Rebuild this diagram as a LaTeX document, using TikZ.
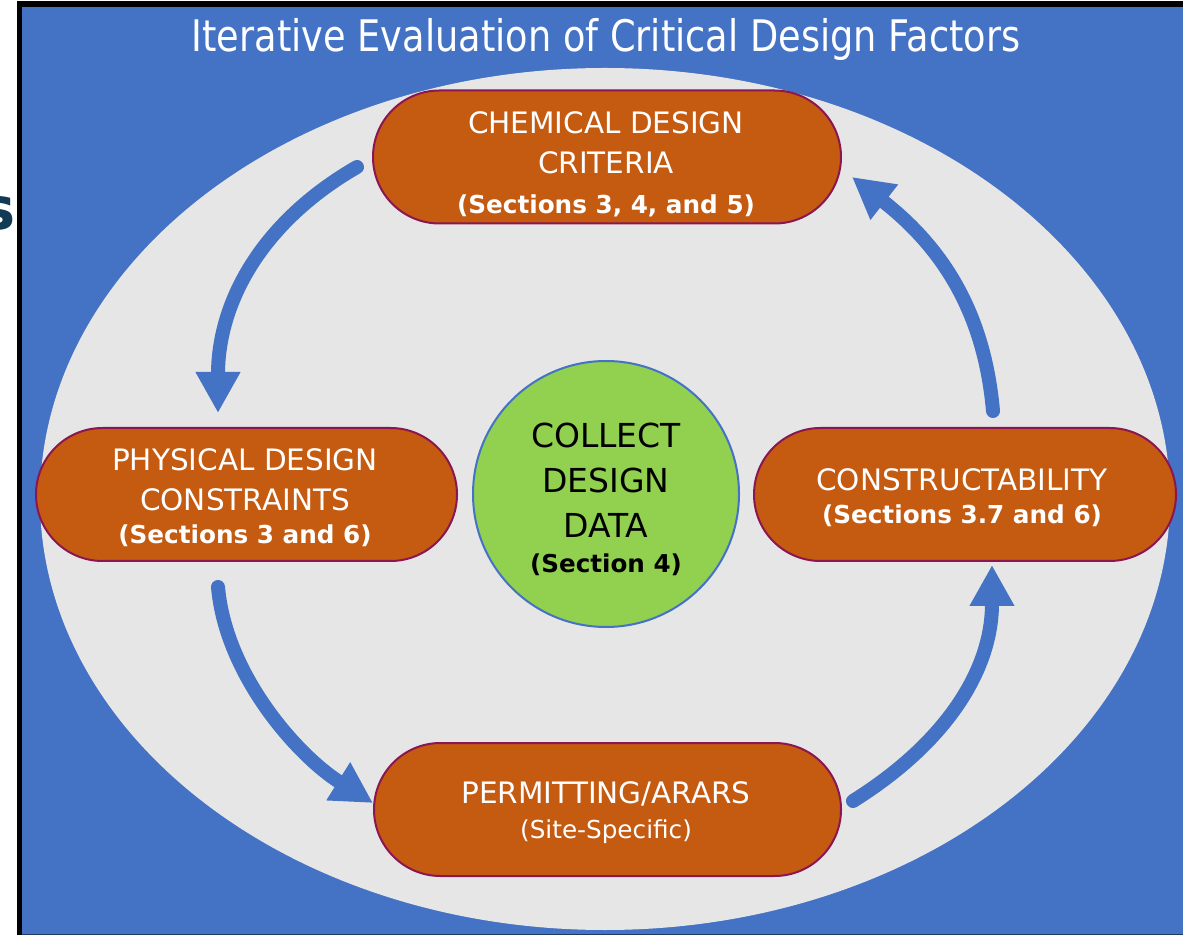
\documentclass[tikz,border=0pt]{standalone}
\usepackage{fontspec}
\setmainfont{DejaVu Sans}
\newfontfamily\titlefont{DejaVu Sans}[FakeStretch=0.844]
\usetikzlibrary{shapes.misc,arrows.meta}
\definecolor{bgblue}{HTML}{4472C4}
\definecolor{ellgray}{HTML}{E6E6E6}
\definecolor{pillfill}{HTML}{C55A11}
\definecolor{pillborder}{HTML}{8A1652}
\definecolor{datagreen}{HTML}{92D050}
\definecolor{navy}{HTML}{123A55}
\definecolor{darknavy}{HTML}{1F3864}
\begin{document}
\begin{tikzpicture}[x=1pt,y=1pt,
  pill/.style={rounded rectangle, draw=pillborder, line width=2pt, fill=pillfill, inner sep=0pt, minimum height=133pt},
  lbl/.style={align=center, text=white, inner sep=0pt, font=\fontsize{29.5}{40}\selectfont},
  sub/.style={font=\bfseries\fontsize{24.7}{40}\selectfont},
  flow/.style={draw=bgblue, line width=14pt, line cap=round, -{Triangle[length=41pt,width=42pt]}}
]
\useasboundingbox (0,0) rectangle (1183,935);
\fill[white] (0,0) rectangle (1183,935);
\fill[black] (17,0) rectangle (1183,934);
\fill[bgblue] (22,1.5) rectangle (1183,928);
\fill[darknavy] (22,0) rectangle (1183,1.5);
% fragment of a letter at the left edge
\begin{scope}
  \clip (0,0) rectangle (16,935);
  \node[anchor=base east, inner sep=0pt, text=navy, font=\bfseries\fontsize{59}{59}\selectfont] (frag) at (16,705) {s};
\end{scope}
% title
\node[anchor=base, inner sep=0pt, text=white, font=\titlefont\fontsize{43.5}{50}\selectfont] (title) at (606,883) {Iterative Evaluation of Critical Design Factors};
% background ellipse
\fill[ellgray] (605,436) ellipse [x radius=565, y radius=431];
% arrow end points
\coordinate (a1s) at (357,768);
\coordinate (a1e) at (218,522);
\coordinate (a2s) at (218,348);
\coordinate (a2e) at (373,132);
\coordinate (a3s) at (853,134);
\coordinate (a3e) at (992,370);
\coordinate (a4s) at (993,524);
\coordinate (a4e) at (852,758);
\draw[flow] (a1s) to[out=210,in=90] (a1e);
\draw[flow] (a2s) to[out=275,in=148,looseness=0.85] (a2e);
\draw[flow] (a3s) to[out=32,in=270] (a3e);
\draw[flow] (a4s) to[out=95,in=322] (a4e);
% boxes
\node[pill, minimum width=468pt] (chem) at (607,778) {};
\node[pill, minimum width=421pt] (phys) at (246.5,440.5) {};
\node[pill, minimum width=422pt] (cons) at (965,440.5) {};
\node[pill, minimum width=467pt] (perm) at (607.5,125.5) {};
\node[circle, draw=bgblue, line width=2pt, fill=datagreen, minimum size=266pt, inner sep=0pt] (data) at (606,441) {};
% texts
\node[lbl] (chemtext) at (606,771) {CHEMICAL DESIGN\\CRITERIA\\{\bfseries\fontsize{24.7}{40}\selectfont (Sections 3, 4, and 5)}};
\node[lbl] (phystext) at (245,437.6) {PHYSICAL DESIGN\\CONSTRAINTS\\[-7pt]{\bfseries\fontsize{24.7}{40}\selectfont (Sections 3 and 6)}};
\node[lbl] (constext) at (962,437.6) {CONSTRUCTABILITY\\[-7pt]{\bfseries\fontsize{24.7}{40}\selectfont (Sections 3.7 and 6)}};
\node[lbl] (permtext) at (606,122.7) {PERMITTING/ARARS\\[-5pt]{\fontsize{24.7}{40}\selectfont (Site-Specific)}};
\node[align=center, text=black, inner sep=0pt, font=\fontsize{33}{45}\selectfont] (datatext) at (606,436) {COLLECT\\DESIGN\\DATA\\[-10pt]{\bfseries\fontsize{24.6}{40}\selectfont (Section 4)}};
\end{tikzpicture}
\end{document}
